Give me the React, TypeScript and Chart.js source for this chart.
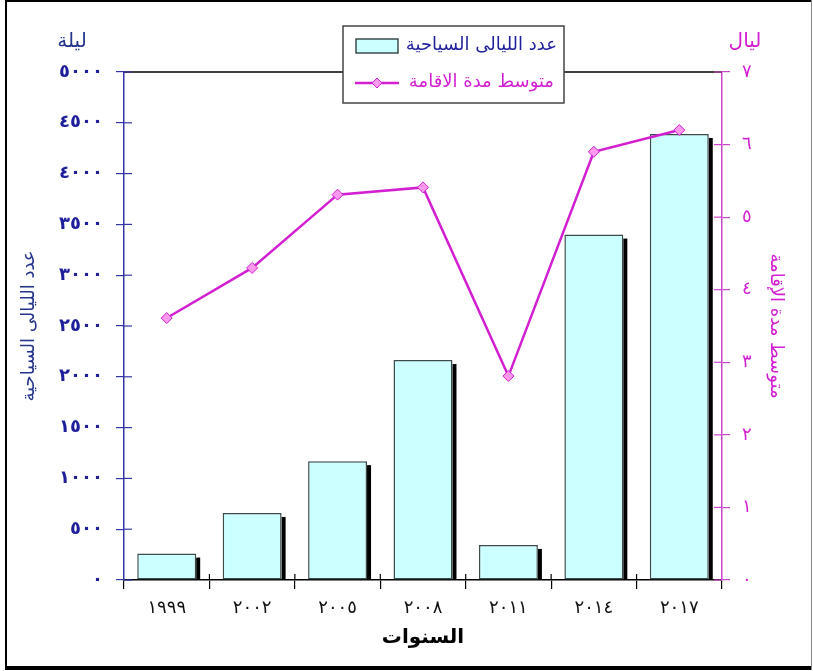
import React, { useEffect, useRef } from 'react';
import { Chart, registerables } from 'chart.js';

Chart.register(...registerables);

// Years (Arabic-Indic digits) along the category axis
const years = ['١٩٩٩', '٢٠٠٢', '٢٠٠٥', '٢٠٠٨', '٢٠١١', '٢٠١٤', '٢٠١٧'];
// Number of tourist nights (left axis)
const touristNights = [260, 660, 1170, 2165, 345, 3400, 4390];
// Average length of stay in nights (right axis)
const averageStay = [3.61, 4.3, 5.31, 5.41, 2.81, 5.9, 6.2];
// Tick labels, bottom to top
const nightsTickLabels = ['٠', '٥٠٠', '١٠٠٠', '١٥٠٠', '٢٠٠٠', '٢٥٠٠', '٣٠٠٠', '٣٥٠٠', '٤٠٠٠', '٤٥٠٠', '٥٠٠٠'];
const stayTickLabels = ['٠', '١', '٢', '٣', '٤', '٥', '٦', '٧'];

const nightsLabel = 'عدد الليالى السياحية';
const stayLabel = 'متوسط مدة الاقامة';
const stayAxisTitle = 'متوسط مدة الإقامة';
const xAxisTitle = 'السنوات';
const leftUnit = 'ليلة';
const rightUnit = 'ليال';

const FONT = "'DejaVu Sans', sans-serif";
const BLUE = '#1f1f9c';
const BLUE_AXIS = '#3535a8';
const BLUE_TITLE = '#26358c';
const MAGENTA = '#d21fd2';
const MAGENTA_AXIS = '#cc44cc';
const BAR_FILL = '#ccffff';
const BAR_BORDER = '#3c4c4c';
const POINT_FILL = '#ff99ee';

// Black drop strip on the right side of each bar
const barShadow = {
  id: 'barShadow',
  beforeDatasetsDraw(chart: any) {
    const { ctx } = chart;
    const meta = chart.getDatasetMeta(0);
    ctx.save();
    ctx.fillStyle = '#000';
    meta.data.forEach((bar: any) => {
      const { x, y, width, base } = bar.getProps(['x', 'y', 'width', 'base'], true);
      ctx.fillRect(x + width / 2, y + 4, 4, base - y - 4);
    });
    ctx.restore();
  },
};

// Frame, top border, inner tick halves, unit captions and the boxed legend
const decorations = {
  id: 'decorations',
  afterDraw(chart: any) {
    const { ctx, chartArea } = chart;
    const { left, right, top, bottom } = chartArea;
    const yl = chart.scales.y;
    const yr = chart.scales.y1;
    ctx.save();

    // top border of plot
    ctx.strokeStyle = '#000';
    ctx.lineWidth = 1.5;
    ctx.beginPath();
    ctx.moveTo(left, top);
    ctx.lineTo(right, top);
    ctx.stroke();

    // inner halves of the crossing ticks
    ctx.lineWidth = 1.2;
    ctx.strokeStyle = BLUE_AXIS;
    yl.ticks.forEach((_t: any, i: number) => {
      const py = yl.getPixelForTick(i);
      ctx.beginPath();
      ctx.moveTo(left, py);
      ctx.lineTo(left + 8, py);
      ctx.stroke();
    });
    ctx.strokeStyle = MAGENTA_AXIS;
    yr.ticks.forEach((_t: any, i: number) => {
      const py = yr.getPixelForTick(i);
      ctx.beginPath();
      ctx.moveTo(right - 8, py);
      ctx.lineTo(right, py);
      ctx.stroke();
    });
    ctx.strokeStyle = '#000';
    const step = (right - left) / years.length;
    for (let i = 1; i < years.length; i++) {
      const px = left + step * i;
      ctx.beginPath();
      ctx.moveTo(px, bottom - 6);
      ctx.lineTo(px, bottom);
      ctx.stroke();
    }

    // unit captions above the axes
    ctx.textAlign = 'center';
    ctx.textBaseline = 'middle';
    ctx.font = `20px ${FONT}`;
    ctx.fillStyle = BLUE_TITLE;
    ctx.fillText(leftUnit, 72, 42);
    ctx.fillStyle = MAGENTA;
    ctx.fillText(rightUnit, 745, 42);

    // legend box
    const bx = 343, by = 26, bw = 221, bh = 77;
    ctx.fillStyle = '#fff';
    ctx.fillRect(bx, by, bw, bh);
    ctx.strokeStyle = '#444';
    ctx.lineWidth = 1.5;
    ctx.strokeRect(bx, by, bw, bh);

    ctx.fillStyle = BAR_FILL;
    ctx.fillRect(356, 39, 42, 14);
    ctx.strokeStyle = BAR_BORDER;
    ctx.lineWidth = 1.5;
    ctx.strokeRect(356, 39, 42, 14);

    ctx.strokeStyle = MAGENTA;
    ctx.lineWidth = 2.5;
    ctx.beginPath();
    ctx.moveTo(355, 83);
    ctx.lineTo(399, 83);
    ctx.stroke();
    ctx.fillStyle = POINT_FILL;
    ctx.strokeStyle = MAGENTA;
    ctx.lineWidth = 1;
    ctx.beginPath();
    ctx.moveTo(377, 78);
    ctx.lineTo(382, 83);
    ctx.lineTo(377, 88);
    ctx.lineTo(372, 83);
    ctx.closePath();
    ctx.fill();
    ctx.stroke();

    ctx.textAlign = 'right';
    ctx.font = `18px ${FONT}`;
    ctx.fillStyle = BLUE;
    ctx.fillText(chart.data.datasets[0].label, 557, 45);
    ctx.fillStyle = MAGENTA;
    ctx.fillText(chart.data.datasets[1].label, 554, 82);

    // outer frame
    ctx.fillStyle = '#000';
    ctx.fillRect(5, 0, 807, 2);
    ctx.fillRect(5, 0, 2, 670);
    ctx.fillRect(5, 666, 807, 4);
    ctx.fillStyle = '#888';
    ctx.fillRect(811, 0, 1, 670);

    ctx.restore();
  },
};

export default function App() {
  const canvasRef = useRef<HTMLCanvasElement | null>(null);

  useEffect(() => {
    if (!canvasRef.current) return;
    const chart = new Chart(canvasRef.current, {
      type: 'bar',
      data: {
        labels: years,
        datasets: [
          {
            type: 'bar',
            label: nightsLabel,
            data: touristNights,
            backgroundColor: BAR_FILL,
            borderColor: BAR_BORDER,
            borderWidth: 1.5,
            borderSkipped: false,
            barPercentage: 0.69,
            categoryPercentage: 1,
            yAxisID: 'y',
            order: 1,
          },
          {
            type: 'line',
            label: stayLabel,
            data: averageStay,
            borderColor: MAGENTA,
            borderWidth: 2.5,
            pointStyle: 'rectRot',
            pointRadius: 5.5,
            pointBackgroundColor: POINT_FILL,
            pointBorderColor: MAGENTA,
            pointBorderWidth: 1,
            tension: 0,
            yAxisID: 'y1',
            order: 0,
          },
        ],
      },
      options: {
        animation: false,
        responsive: true,
        maintainAspectRatio: false,
        layout: { padding: { top: 72, left: 0, right: 0, bottom: 0 } },
        plugins: {
          legend: { display: false },
          tooltip: { enabled: false },
        },
        scales: {
          x: {
            type: 'category',
            offset: true,
            grid: { display: true, drawOnChartArea: false, offset: true, tickLength: 9, color: '#000', lineWidth: 1.2 },
            border: { display: true, color: '#000', width: 1.5 },
            ticks: { color: '#111', font: { family: FONT, size: 18 }, padding: 9, maxRotation: 0 },
            title: {
              display: true,
              text: xAxisTitle,
              color: '#000',
              font: { family: FONT, size: 20, weight: 'bold' },
              padding: { top: 0, bottom: 21 },
            },
            afterFit: (s: any) => { s.height = 91; },
          },
          y: {
            position: 'left',
            min: 0,
            max: 5000,
            ticks: {
              stepSize: 500,
              color: BLUE,
              font: { family: FONT, size: 18, weight: 'bold' },
              padding: 13,
              callback: (_v: any, i: number) => nightsTickLabels[i],
            },
            grid: { drawOnChartArea: false, tickLength: 8, color: BLUE_AXIS, lineWidth: 1.2 },
            border: { color: BLUE_AXIS, width: 1.5 },
            title: {
              display: true,
              text: nightsLabel,
              color: BLUE_TITLE,
              font: { family: FONT, size: 18 },
              padding: { top: 19, bottom: 0 },
            },
            afterFit: (s: any) => { s.width = 124; },
          },
          y1: {
            position: 'right',
            min: 0,
            max: 7,
            ticks: {
              stepSize: 1,
              color: MAGENTA,
              font: { family: FONT, size: 18 },
              padding: 12,
              callback: (_v: any, i: number) => stayTickLabels[i],
            },
            grid: { drawOnChartArea: false, tickLength: 8, color: MAGENTA_AXIS, lineWidth: 1.2 },
            border: { color: MAGENTA_AXIS, width: 1.5 },
            title: {
              display: true,
              text: stayAxisTitle,
              color: MAGENTA,
              font: { family: FONT, size: 18 },
              padding: { top: 27, bottom: 0 },
            },
            afterFit: (s: any) => { s.width = 91; },
          },
        },
      },
      plugins: [barShadow, decorations],
    });
    return () => chart.destroy();
  }, []);

  return (
    <div style={{ position: 'fixed', left: 0, top: 0, width: 813, height: 671, background: '#fff' }}>
      <canvas ref={canvasRef} />
    </div>
  );
}
